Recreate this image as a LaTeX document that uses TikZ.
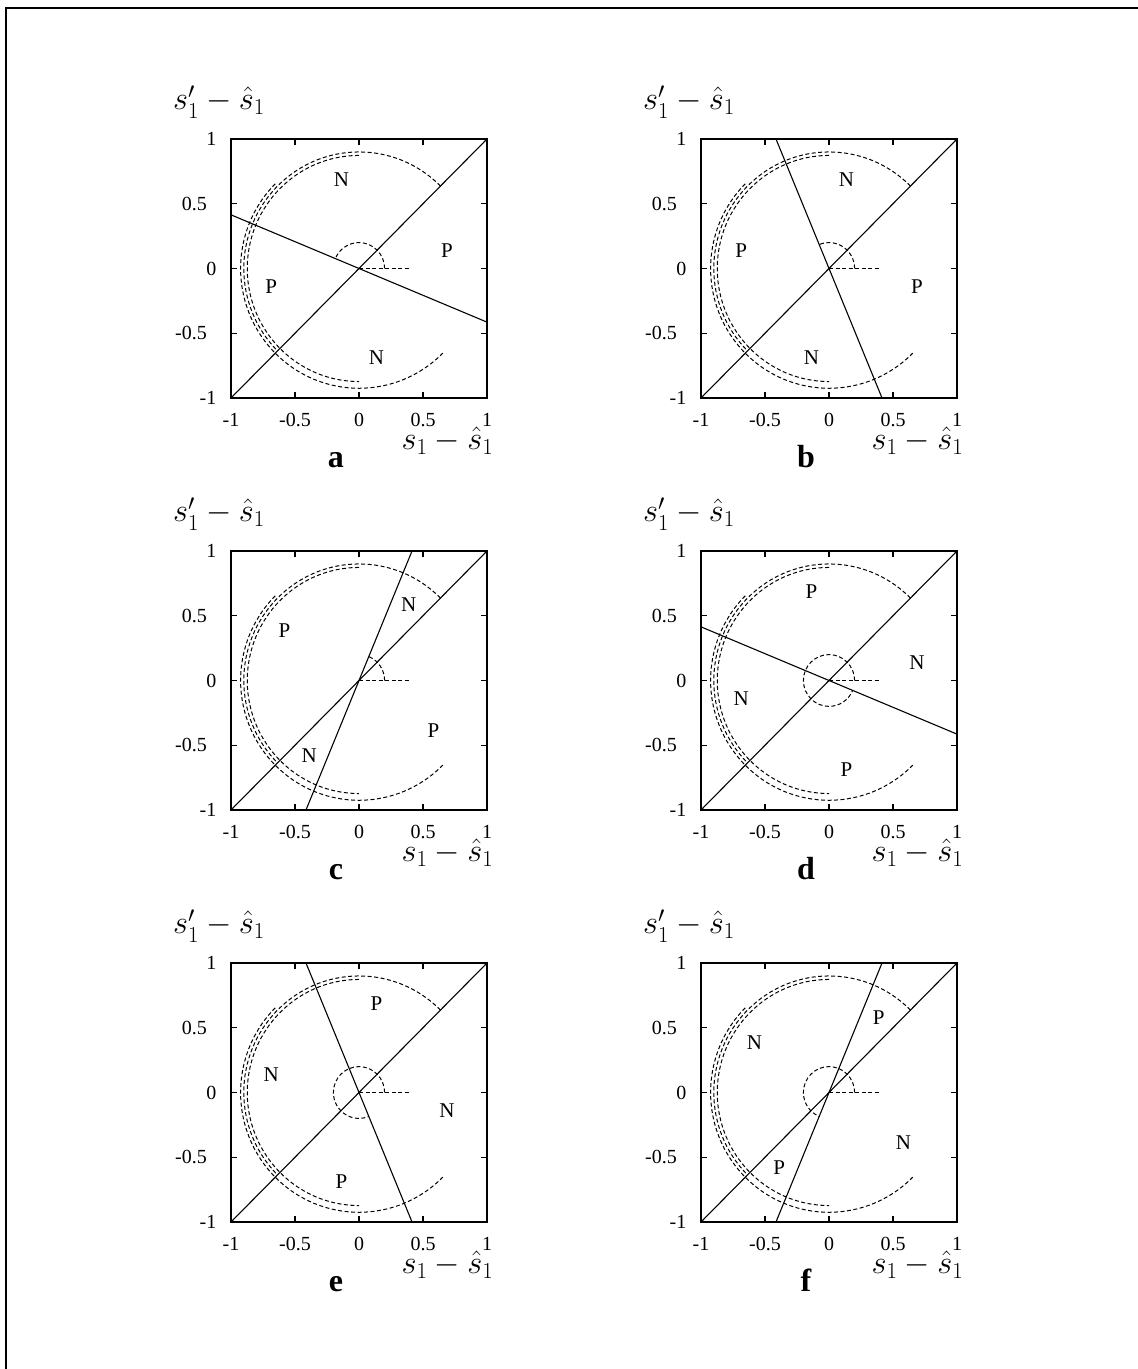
\RequirePackage{fix-cm}
\documentclass[tikz,border=0pt]{standalone}
\usepackage[no-math]{fontspec}
\newfontfamily\tms{Liberation Serif}
\tikzset{
  frame/.style={line width=2pt},
  plotbox/.style={line width=1.1pt},
  curve/.style={line width=1.1pt},
  dsh/.style={line width=1pt, dash pattern=on 4pt off 2.5pt},
  tick/.style={font=\tms\fontsize{20}{20}\selectfont, inner sep=0pt},
  region/.style={font=\tms\fontsize{21}{21}\selectfont, inner sep=0pt},
  axlab/.style={font=\fontsize{32.5}{32.5}\selectfont, inner sep=0pt},
  letter/.style={font=\tms\bfseries\fontsize{32}{32}\selectfont, inner sep=0pt},
}
\newcommand\drawpanel[7]{%
\begin{scope}[shift={(#2,#3)}, x=128pt, y=129.5pt]
  \draw[plotbox] (-1,-1) rectangle (1,1);
  \foreach \v [count=\i] in {-1,-0.5,0,0.5,1}{
    \draw[plotbox] (\v,-1) -- ++(0,6pt) (\v,1) -- ++(0,-6pt)
                   (-1,\v) -- ++(6pt,0) (1,\v) -- ++(-6pt,0);
    \node[tick, yshift=-22pt] (#1-bx\i) at (\v,-1) {\v};
  }
  \foreach \v/\s [count=\i] in {-1/14.5,-0.5/24,0/14.5,0.5/24,1/14.5}{
    \node[tick, anchor=east, xshift=-\s pt] (#1-ly\i) at (-1,\v) {\v};
  }
  \begin{scope}
    \clip (-1,-1) rectangle (1,1);
    \draw[curve] (#4:-2) -- (#4:2);
  \end{scope}
  \draw[curve] (-1,-1) -- (1,1);
  \draw[dsh] (0,0) -- (0.4,0);
  \draw[dsh] (0.2,0) arc[start angle=0, end angle=#5, radius=0.2];
  \draw[dsh] (45:0.9) arc[start angle=45, end angle=225, radius=0.9];
  \draw[dsh] (90:0.873) arc[start angle=90, end angle=270, radius=0.873];
  \draw[dsh] (135:0.925) arc[start angle=135, end angle=315, radius=0.925];
  \pgfmathsetmacro\bisA{(45+#4)/2}
  \pgfmathsetmacro\bisB{\bisA+180}
  \pgfmathsetmacro\bisC{\bisA+90}
  \pgfmathsetmacro\bisD{\bisA+270}
  \node[region] (#1-r1) at (\bisA:0.7) {#6};
  \node[region] (#1-r2) at (\bisB:0.7) {#6};
  \node[region] (#1-r3) at (\bisC:0.7) {#7};
  \node[region] (#1-r4) at (\bisD:0.7) {#7};
  \node[axlab, anchor=base west, xshift=-58pt, yshift=29pt] (#1-ylab) at (-1,1) {$s'_1-\hat s_1$};
  \node[axlab, anchor=base east, xshift=6.5pt, yshift=-52pt] (#1-xlab) at (1,-1) {$s_1-\hat s_1$};
  \node[letter, anchor=base, yshift=-70pt] (#1-let) at (-0.18,-1) {#1};
\end{scope}}
\begin{document}
\begin{tikzpicture}[x=1pt, y=1pt]
  \useasboundingbox (0,0) rectangle (1138,1369);
  \draw[frame] (6,0) -- (6,1361) -- (1138,1361);
  \drawpanel{a}{359}{1100.5}{157.5}{157.5}{N}{P}
  \drawpanel{b}{829}{1100.5}{112.5}{112.5}{N}{P}
  \drawpanel{c}{359}{688.5}{67.5}{67.5}{N}{P}
  \drawpanel{d}{829}{688.5}{157.5}{337.5}{P}{N}
  \drawpanel{e}{359}{276.5}{112.5}{292.5}{P}{N}
  \drawpanel{f}{829}{276.5}{67.5}{247.5}{P}{N}
\end{tikzpicture}
\end{document}
